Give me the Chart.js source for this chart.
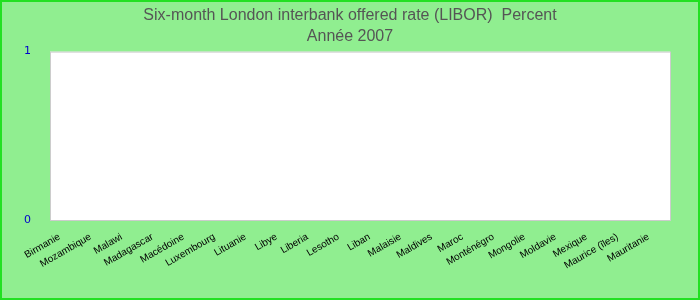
<!DOCTYPE html>
<html lang="fr">
<head>
    <meta charset="UTF-8">
    <title>LIBOR 2007</title>
    <script src="https://cdn.jsdelivr.net/npm/chart.js"></script>
    <style>
        body { margin: 0; background: #90ee90; }
        canvas { display: block; }
    </style>
</head>
<body>
    <canvas id="chart" width="700" height="300"></canvas>
    <script>
        // pays (axe des catégories)
        const countries = ['Birmanie', 'Mozambique', 'Malawi', 'Madagascar', 'Macédoine', 'Luxembourg',
            'Lituanie', 'Libye', 'Liberia', 'Lesotho', 'Liban', 'Malaisie', 'Maldives', 'Maroc',
            'Monténégro', 'Mongolie', 'Moldavie', 'Mexique', 'Maurice (îles)', 'Mauritanie'];
        // aucune valeur visible : tout à zéro
        const rates = [0, 0, 0, 0, 0, 0, 0, 0, 0, 0, 0, 0, 0, 0, 0, 0, 0, 0, 0, 0];
        const yTicks = [0, 1];
        const titleLines = ['Six-month London interbank offered rate (LIBOR)  Percent', 'Année 2007'];

        // fond vert, cadre, zone de tracé blanche
        const backdrop = {
            id: 'backdrop',
            beforeDraw(chart) {
                const c = chart.ctx, a = chart.chartArea;
                c.save();
                c.fillStyle = '#90ee90';
                c.fillRect(0, 0, chart.width, chart.height);
                c.strokeStyle = '#22e022';
                c.lineWidth = 2;
                c.strokeRect(1, 1, chart.width - 2, chart.height - 2);
                c.fillStyle = '#ffffff';
                c.fillRect(a.left, a.top, a.right - a.left, a.bottom - a.top);
                c.strokeStyle = '#cccccc';
                c.lineWidth = 1;
                c.strokeRect(a.left + 0.5, a.top + 0.5, a.right - a.left, a.bottom - a.top);
                c.restore();
            }
        };

        new Chart(document.getElementById('chart'), {
            type: 'bar',
            data: {
                labels: countries,
                datasets: [{ label: 'LIBOR', data: rates, backgroundColor: '#3366cc', borderWidth: 0 }]
            },
            options: {
                responsive: false,
                animation: false,
                layout: { padding: 0 },
                plugins: {
                    legend: { display: false },
                    tooltip: { enabled: false },
                    title: {
                        display: true,
                        text: titleLines,
                        color: '#555555',
                        font: { family: 'Liberation Sans', size: 16, weight: 'normal', lineHeight: 1.3 },
                        padding: { top: 5, bottom: 5 }
                    }
                },
                scales: {
                    x: {
                        grid: { display: false },
                        border: { display: false },
                        ticks: {
                            autoSkip: false,
                            minRotation: 30,
                            maxRotation: 30,
                            labelOffset: -6,
                            color: '#000000',
                            padding: 3,
                            font: { family: 'Liberation Sans', size: 10 }
                        },
                        afterFit(axis) { axis.height = 80; }
                    },
                    y: {
                        min: 0,
                        max: 1,
                        grid: { display: false },
                        border: { display: false },
                        afterBuildTicks(axis) { axis.ticks = yTicks.map(v => ({ value: v })); },
                        ticks: {
                            color: '#0000cc',
                            padding: 11,
                            font: { family: 'DejaVu Sans', size: 11 }
                        },
                        afterFit(axis) { axis.width = 50; }
                    },
                    // marge droite sans décaler le titre
                    yRight: {
                        position: 'right',
                        min: 0,
                        max: 1,
                        grid: { display: false },
                        border: { display: false },
                        ticks: { display: false },
                        afterFit(axis) { axis.width = 30; }
                    }
                }
            },
            plugins: [backdrop]
        });
    </script>
</body>
</html>
